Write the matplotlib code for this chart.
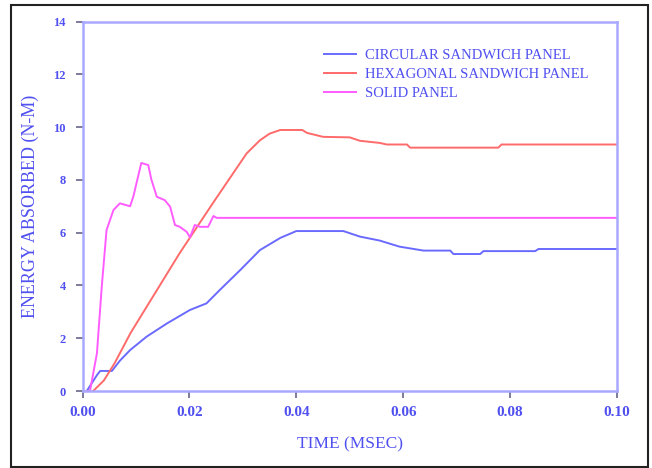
import matplotlib
matplotlib.use("Agg")
import matplotlib.pyplot as plt
from matplotlib.patches import Rectangle

# values (time in msec, energy in N-m)
t_circ = [0.0008, 0.0027, 0.0033, 0.0055, 0.0070, 0.0089, 0.0120, 0.0158, 0.0201, 0.0232,
          0.0257, 0.0295, 0.0332, 0.0370, 0.0400, 0.0488, 0.0519, 0.0556, 0.0593, 0.0638,
          0.0688, 0.0694, 0.0744, 0.0750, 0.0847, 0.0853, 0.1000]
e_circ = [0.0, 0.60, 0.76, 0.76, 1.15, 1.55, 2.06, 2.56, 3.07, 3.32,
          3.83, 4.58, 5.34, 5.80, 6.06, 6.06, 5.85, 5.70, 5.47, 5.32,
          5.32, 5.19, 5.19, 5.30, 5.30, 5.38, 5.38]

t_hex = [0.0020, 0.0040, 0.0060, 0.0090, 0.0120, 0.0182, 0.0244, 0.0307, 0.0332, 0.0350,
         0.0370, 0.0411, 0.0420, 0.0450, 0.0500, 0.0519, 0.0556, 0.0569, 0.0607, 0.0613,
         0.0778, 0.0784, 0.1000]
e_hex = [0.0, 0.40, 1.05, 2.20, 3.19, 5.23, 7.12, 9.00, 9.50, 9.75,
         9.89, 9.89, 9.78, 9.63, 9.61, 9.48, 9.40, 9.34, 9.34, 9.22,
         9.22, 9.34, 9.34]

t_solid = [0.0005, 0.0014, 0.0027, 0.0036, 0.0045, 0.0058, 0.0070, 0.0089, 0.0095, 0.0110,
           0.0123, 0.0129, 0.0139, 0.0154, 0.0164, 0.0173, 0.0182, 0.0195, 0.0201, 0.0210,
           0.0220, 0.0235, 0.0245, 0.0251, 0.1000]
e_solid = [0.0, 0.0, 1.43, 3.95, 6.10, 6.86, 7.11, 7.00, 7.36, 8.64,
           8.56, 8.00, 7.36, 7.23, 6.98, 6.29, 6.22, 6.03, 5.82, 6.29,
           6.22, 6.22, 6.63, 6.56, 6.56]

labels = ['CIRCULAR SANDWICH PANEL', 'HEXAGONAL SANDWICH PANEL', 'SOLID PANEL']
x_ticks = [0.00, 0.02, 0.04, 0.06, 0.08, 0.10]
y_ticks = [0, 2, 4, 6, 8, 10, 12, 14]

txt_blue = '#5050f0'
spine_blue = '#a8a8ff'
serif = 'Liberation Serif'

fig = plt.figure(figsize=(6.52, 4.68), dpi=100)
fig.patches.append(Rectangle((11/652, 1/468), 637/652, 462/468, transform=fig.transFigure,
                             fill=False, edgecolor='#222222', linewidth=1.5))

ax = fig.add_axes([82.5/652, 77/468, 534.5/652, 369.5/468])
ax.plot(t_circ, e_circ, color='#6a6aff', linewidth=1.4, label=labels[0])
ax.plot(t_hex, e_hex, color='#ff6a6a', linewidth=1.4, label=labels[1])
ax.plot(t_solid, e_solid, color='#ff5cff', linewidth=1.4, label=labels[2])

ax.set_xlim(0, 0.10)
ax.set_ylim(0, 14)
ax.set_xticks(x_ticks)
ax.set_yticks(y_ticks)
ax.set_xticklabels(['%.2f' % v for v in x_ticks])
for s in ax.spines.values():
    s.set_color(spine_blue)
    s.set_linewidth(1.8)
ax.tick_params(direction='out', length=5, width=1.2, color='#666688', labelcolor=txt_blue)
ax.tick_params(axis='x', labelsize=11, pad=6)
ax.tick_params(axis='y', labelsize=9, pad=7)
for lab in ax.get_xticklabels() + ax.get_yticklabels():
    lab.set_family(serif)
    lab.set_weight('bold')

ax.set_xlabel('TIME (MSEC)', color=txt_blue, fontsize=12.5, family=serif, labelpad=12)
ax.set_ylabel('ENERGY ABSORBED (N-M)', color=txt_blue, fontsize=13, family=serif, labelpad=10)

leg = ax.legend(loc='upper left', bbox_to_anchor=(0.427, 0.961), frameon=False,
                handlelength=2.2, handletextpad=0.6, labelspacing=0.4,
                prop={'family': serif, 'size': 10.5})
for t in leg.get_texts():
    t.set_color(txt_blue)

fig.savefig('out.png', dpi=100)
